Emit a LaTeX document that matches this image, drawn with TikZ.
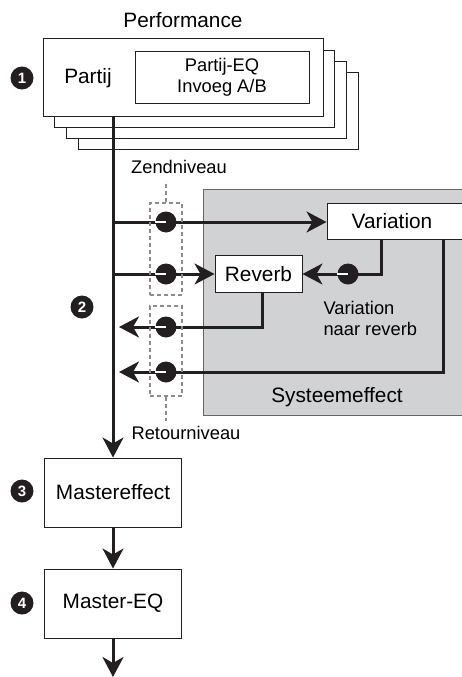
\documentclass[tikz,border=0pt]{standalone}
\usepackage{fontspec}
\setmainfont{Liberation Sans}
\usetikzlibrary{arrows.meta, calc, positioning}
\definecolor{sysgray}{RGB}{209,210,212}
\definecolor{ink}{RGB}{35,31,32}
\newcommand{\bigtxt}{\fontsize{20.8}{24}\selectfont}
\newcommand{\smalltxt}{\fontsize{18.3}{21}\selectfont}

\begin{document}
\begin{tikzpicture}[x=1pt, y=-1pt,% pixel grid, y pointing down
         > = {Stealth[length=20pt, width=21pt, inset=6pt]},
dot/.style = {circle, fill=ink,
              minimum size=21pt, inner sep=0pt, outer sep=0pt,
              node contents={}},
box/.style = {draw=ink, line width=1pt, fill=white,
              inner sep=0pt, font=\bigtxt},
num/.style = {circle, fill=ink, text=white, minimum size=23pt,
              inner sep=0pt, font=\bfseries\fontsize{15}{15}\selectfont},
level/.style = {draw=black!45, line width=1.5pt, dash pattern=on 4pt off 3pt},
flow/.style = {draw=ink, line width=3pt}
                        ]
	\useasboundingbox (0,0) rectangle (461,677);

	% parts (stacked)
	\node[font=\bigtxt] (perf) at (183,20) {Performance};
	\foreach \i in {3,2,1}
		\draw[fill=white, draw=ink, line width=1pt]
			(43+\i*11.7, 39+\i*11.3) rectangle (323+\i*11.7, 116+\i*11.1);
	\node[box, minimum width=280pt, minimum height=77pt] (partij) at (183,77.5) {};
	\node[font=\bigtxt] (partijtxt) at (88,78) {Partij};
	\node[box, minimum width=174pt, minimum height=51pt, align=center,
	      font=\smalltxt] (eq) at (222,77.5) {Partij-EQ\\Invoeg A/B};
	\node[num] (n1) at (22,78) {1};

	% system effect block
	\node[fill=sysgray, draw=black!60, line width=1pt,
	      minimum width=300pt, minimum height=226pt] (sys) at (353,302) {};
	\node[font=\bigtxt] (systxt) at (337,397) {Systeemeffect};
	\node[box, minimum width=170pt, minimum height=36pt] (var) at (412,221) {};
	\node[font=\bigtxt] (vartxt) at (392,221) {Variation};
	\node[box, minimum width=87pt, minimum height=37pt] (rev) at (258.5,274) {Reverb};
	\node[align=left, anchor=west, font=\smalltxt] (v2r) at (320,318)
		{Variation\\naar reverb};

	% master chain
	\node[box, minimum width=137pt, minimum height=69pt] (master) at (113,492.5) {Mastereffect};
	\node[box, minimum width=137pt, minimum height=69pt] (mastereq) at (113,603.5) {Master-EQ};
	\node[num] (n2) at (82,307) {2};
	\node[num] (n3) at (22,491) {3};
	\node[num] (n4) at (22,603) {4};
	\coordinate (out) at (113,677);

	% send / return lines
	\coordinate (s1) at (113,222);
	\coordinate (s2) at (113,274);
	\coordinate (r1) at (119,327);
	\coordinate (r2) at (119,372);
	\draw[flow,->] (master.north |- partij.south) -- (master);
	\draw[flow,->] (s1) -- (s1 -| var.west);
	\draw[flow,->] (s2) -- (s2 -| rev.west);
	\draw[flow,->] ([xshift=55pt]var.south west) |- (rev.east);
	\draw[flow,->] ([xshift=4pt]rev.south) |- (r1);
	\draw[flow,->] ([xshift=117pt]var.south west) |- (r2);
	\draw[flow,->] (master) -- (mastereq);
	\draw[flow,->] (mastereq) -- (out);

	% level boxes
	\node[level, minimum width=32pt, minimum height=92pt] (send) at (166,249) {};
	\node[level, minimum width=32pt, minimum height=90pt] (ret) at (166,351) {};
	\draw[level] (send.north) -- ++(0,-21);
	\draw[level] (ret.south) -- ++(0,24);
	\node[font=\smalltxt] (zend) at (179,167) {Zendniveau};
	\node[font=\smalltxt] (retour) at (186,433) {Retourniveau};

	% level dots
	\node (d1) at (166,222) [dot];
	\node (d2) at (166,274) [dot];
	\node (d3) at (166,327) [dot];
	\node (d4) at (166,372) [dot];
	\node (d5) at (348,274) [dot];
	\foreach \d in {d1,d2,d3,d4,d5}
		\draw[white, line width=2pt] ([xshift=-1pt]\d.west) -- (\d.center);
\end{tikzpicture}
\end{document}
